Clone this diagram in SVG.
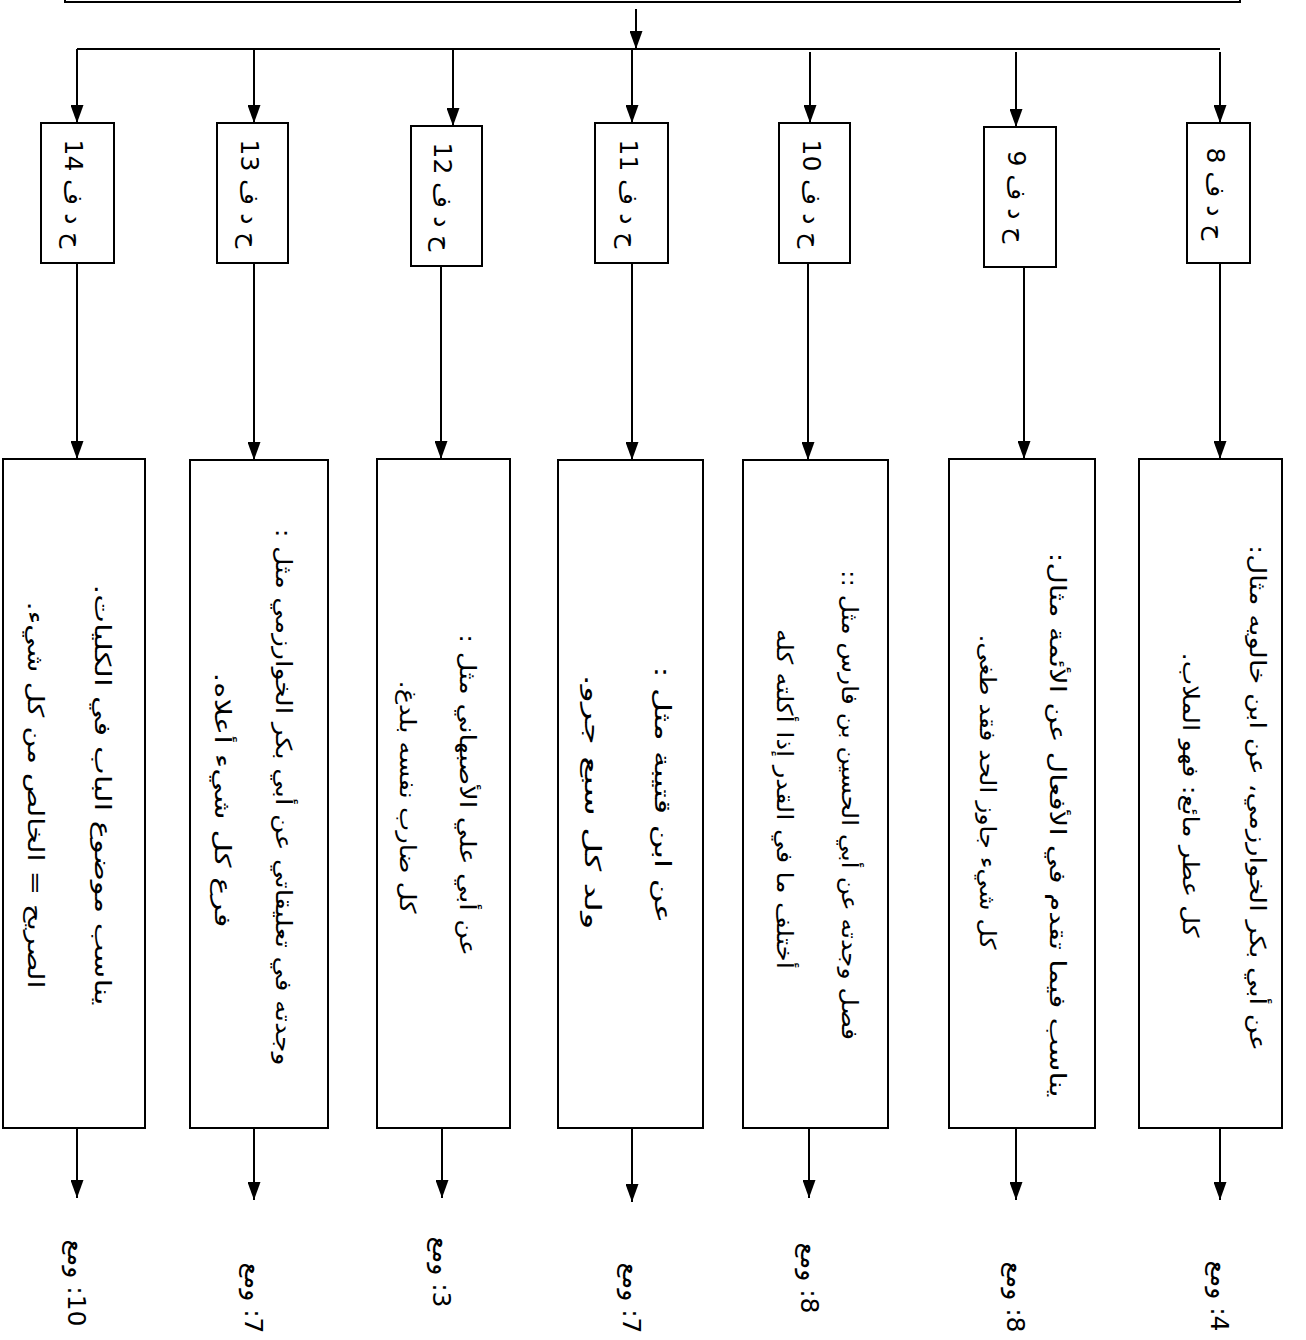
<svg xmlns="http://www.w3.org/2000/svg" width="1306" height="1340" viewBox="0 0 1306 1340">
<style>
.box{fill:#fff;stroke:#000;stroke-width:2}
.ln{fill:none;stroke:#000;stroke-width:2}
.ar{fill:none;stroke:#000;stroke-width:2;marker-end:url(#ah)}
.t{font-family:"DejaVu Sans",sans-serif;font-size:22px;fill:#000}
.lb{font-family:"DejaVu Sans",sans-serif;font-size:25px;fill:#000}
</style>
<defs>
<marker id="ah" viewBox="0 0 18 13" refX="18" refY="6.5" markerWidth="18" markerHeight="13" markerUnits="userSpaceOnUse" orient="auto"><path d="M0,0 L18,6.5 L0,13 z" fill="#000"/></marker>
</defs>
<rect width="1306" height="1340" fill="#fff"/>
<g id="top"><rect class="box" x="65" y="-12" width="1175" height="14"/></g>
<g id="connectors">
<path class="ar" d="M636,9 V49"/>
<path class="ln" d="M77,49 H1220"/>
<path class="ar" d="M77,49 V123"/>
<path class="ar" d="M254,49 V123"/>
<path class="ar" d="M453,49 V126"/>
<path class="ar" d="M632,49 V123"/>
<path class="ar" d="M810,52 V123"/>
<path class="ar" d="M1016,52 V127"/>
<path class="ar" d="M1220,52 V123"/>
<path class="ar" d="M77,263 V459"/>
<path class="ar" d="M254,263 V460"/>
<path class="ar" d="M441,266 V459"/>
<path class="ar" d="M632,263 V460"/>
<path class="ar" d="M808,263 V460"/>
<path class="ar" d="M1024,267 V459"/>
<path class="ar" d="M1220,263 V459"/>
<path class="ar" d="M77,1128 V1198"/>
<path class="ar" d="M254,1128 V1200"/>
<path class="ar" d="M442,1128 V1198"/>
<path class="ar" d="M632,1128 V1202"/>
<path class="ar" d="M809,1128 V1198"/>
<path class="ar" d="M1016,1128 V1200"/>
<path class="ar" d="M1220,1128 V1200"/>
</g>
<g id="h14"><rect class="box" x="41" y="123" width="73" height="140"/><text class="lb" direction="rtl" text-anchor="middle" transform="translate(65,194) rotate(90)">ح د ف 14</text></g>
<g id="h13"><rect class="box" x="217" y="123" width="71" height="140"/><text class="lb" direction="rtl" text-anchor="middle" transform="translate(241,194) rotate(90)">ح د ف 13</text></g>
<g id="h12"><rect class="box" x="411" y="126" width="71" height="140"/><text class="lb" direction="rtl" text-anchor="middle" transform="translate(434,197) rotate(90)">ح د ف 12</text></g>
<g id="h11"><rect class="box" x="595" y="123" width="73" height="140"/><text class="lb" direction="rtl" text-anchor="middle" transform="translate(620,194) rotate(90)">ح د ف 11</text></g>
<g id="h10"><rect class="box" x="779" y="123" width="71" height="140"/><text class="lb" direction="rtl" text-anchor="middle" transform="translate(803,194) rotate(90)">ح د ف 10</text></g>
<g id="h9"><rect class="box" x="984" y="127" width="72" height="140"/><text class="lb" direction="rtl" text-anchor="middle" transform="translate(1008,197) rotate(90)">ح د ف 9</text></g>
<g id="h8"><rect class="box" x="1187" y="123" width="63" height="140"/><text class="lb" direction="rtl" text-anchor="middle" transform="translate(1207,194) rotate(90)">ح د ف 8</text></g>

<g id="b14"><rect class="box" x="3" y="459" width="142" height="669"/>
<text class="t" direction="rtl" text-anchor="middle" textLength="421" lengthAdjust="spacingAndGlyphs" transform="translate(95,795) rotate(90)">يناسب موضوع الباب في الكليات.</text>
<text class="t" direction="rtl" text-anchor="middle" textLength="387" lengthAdjust="spacingAndGlyphs" transform="translate(28,795) rotate(90)">الصريح = الخالص من كل شيء.</text></g>
<g id="b13"><rect class="box" x="190" y="460" width="138" height="668"/>
<text class="t" direction="rtl" text-anchor="middle" textLength="537" lengthAdjust="spacingAndGlyphs" transform="translate(276,797) rotate(90)">وجدته في تعليقاتي عن أبي بكر الخوارزمي مثل :</text>
<text class="t" direction="rtl" text-anchor="middle" textLength="255" lengthAdjust="spacingAndGlyphs" transform="translate(215,800) rotate(90)">فرع كل شيء أعلاه.</text></g>
<g id="b12"><rect class="box" x="377" y="459" width="133" height="669"/>
<text class="t" direction="rtl" text-anchor="middle" textLength="322" lengthAdjust="spacingAndGlyphs" transform="translate(460,795) rotate(90)">عن أبي علي الأصبهاني مثل :</text>
<text class="t" direction="rtl" text-anchor="middle" textLength="233" lengthAdjust="spacingAndGlyphs" transform="translate(400,797) rotate(90)">كل ضارب نفسه بلدغ.</text></g>
<g id="b11"><rect class="box" x="558" y="460" width="145" height="668"/>
<text class="t" direction="rtl" text-anchor="middle" textLength="257" lengthAdjust="spacingAndGlyphs" transform="translate(655,795) rotate(90)">عن ابن قتيبة مثل :</text>
<text class="t" direction="rtl" text-anchor="middle" textLength="255" lengthAdjust="spacingAndGlyphs" transform="translate(585,802) rotate(90)">ولد كل سبع جرو.</text></g>
<g id="b10"><rect class="box" x="743" y="460" width="145" height="668"/>
<text class="t" direction="rtl" text-anchor="middle" textLength="470" lengthAdjust="spacingAndGlyphs" transform="translate(842,805) rotate(90)">فصل وجدته عن أبي الحسين بن فارس مثل ::</text>
<text class="t" direction="rtl" text-anchor="middle" textLength="340" lengthAdjust="spacingAndGlyphs" transform="translate(777,799) rotate(90)">أختلف ما في القدر إذا أكلته كله</text></g>
<g id="b9"><rect class="box" x="949" y="459" width="146" height="669"/>
<text class="t" direction="rtl" text-anchor="middle" textLength="545" lengthAdjust="spacingAndGlyphs" transform="translate(1050,825) rotate(90)">يناسب فيما تقدم في الأفعال عن الأئمة مثال:</text>
<text class="t" direction="rtl" text-anchor="middle" textLength="315" lengthAdjust="spacingAndGlyphs" transform="translate(980,792) rotate(90)">كل شيء جاوز الحد فقد طغى.</text></g>
<g id="b8"><rect class="box" x="1139" y="459" width="143" height="669"/>
<text class="t" direction="rtl" text-anchor="middle" textLength="506" lengthAdjust="spacingAndGlyphs" transform="translate(1250,798) rotate(90)">عن أبي بكر الخوارزمي، عن ابن خالويه مثال:</text>
<text class="t" direction="rtl" text-anchor="middle" textLength="285" lengthAdjust="spacingAndGlyphs" transform="translate(1183,795) rotate(90)">كل عطر مائع: فهو الملاب.</text></g>

<g id="f14"><text class="lb" direction="rtl" text-anchor="middle" transform="translate(68,1283) rotate(90)">10: ومع</text></g>
<g id="f13"><text class="lb" direction="rtl" text-anchor="middle" transform="translate(245,1298) rotate(90)">7: ومع</text></g>
<g id="f12"><text class="lb" direction="rtl" text-anchor="middle" transform="translate(433,1272) rotate(90)">3: ومع</text></g>
<g id="f11"><text class="lb" direction="rtl" text-anchor="middle" transform="translate(623,1298) rotate(90)">7: ومع</text></g>
<g id="f10"><text class="lb" direction="rtl" text-anchor="middle" transform="translate(801,1278) rotate(90)">8: ومع</text></g>
<g id="f9"><text class="lb" direction="rtl" text-anchor="middle" transform="translate(1007,1297) rotate(90)">8: ومع</text></g>
<g id="f8"><text class="lb" direction="rtl" text-anchor="middle" transform="translate(1211,1296) rotate(90)">4: ومع</text></g>
</svg>
